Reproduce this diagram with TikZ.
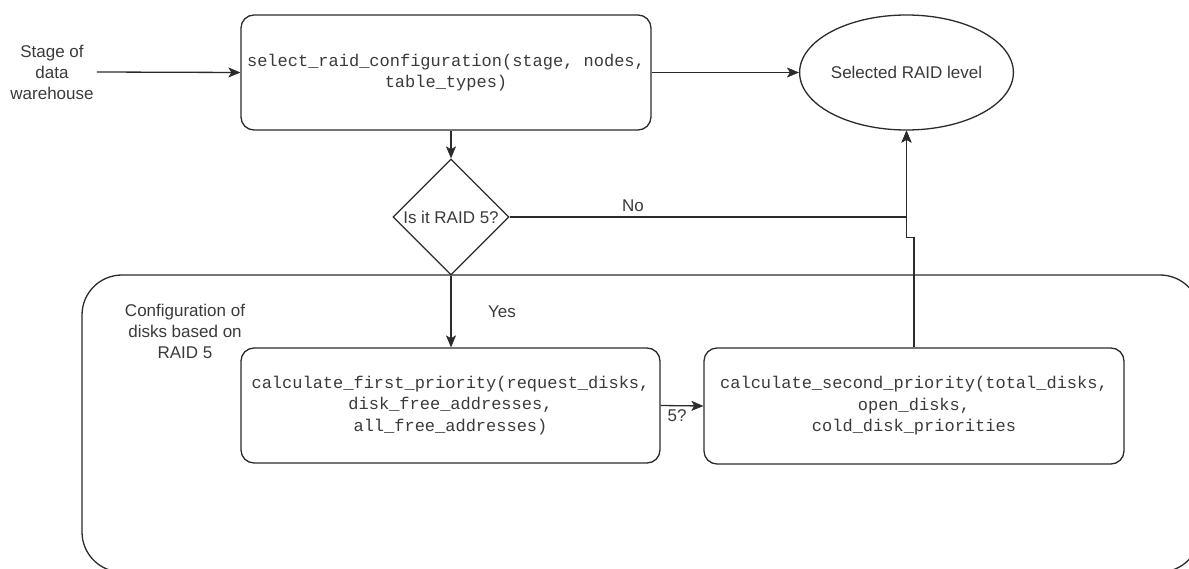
\documentclass[tikz,border=0pt]{standalone}
\usepackage{fontspec}
\setmainfont{Liberation Sans}
\setmonofont{Liberation Mono}
\usetikzlibrary{arrows.meta,shapes.geometric}
\definecolor{ink}{HTML}{2B2B2B}
\definecolor{txt}{HTML}{3A3A3A}

\begin{document}
\begin{tikzpicture}[x=1pt,y=-1pt,
  every node/.style={text=txt},
  sansfont/.style={font=\fontsize{17}{21}\selectfont},
  codefont/.style={font=\fontsize{17}{21.5}\selectfont\ttfamily},
  proc/.style={draw=ink, line width=1.3pt, rounded corners=13pt, codefont,
    align=center, inner sep=0pt},
  flow/.style={draw=ink, line width=1.3pt,
    -{Stealth[length=12pt,width=10pt,inset=3pt,line width=0.5pt]}},
  plain/.style={sansfont, align=center, inner sep=3pt},
]
\path[use as bounding box] (0,0) rectangle (1189,569);

% group frame for the RAID 5 disk configuration
\begin{scope}
  \clip (0,0) rectangle (1189,569);
  \draw[ink, line width=1.3pt, rounded corners=40pt] (82,275) rectangle (1200,572);
\end{scope}
\node[plain] (grp) at (185,331) {Configuration of\\disks based on\\RAID 5};

% input
\node[plain] (stage) at (52,72) {Stage of\\data\\warehouse};

% main selection step
\node[proc, minimum width=410pt, minimum height=115pt] (sel) at (446,72.5)
  {select\_raid\_configuration(stage, nodes,\\table\_types)};

% result
\node[ellipse, draw=ink, line width=1.3pt, minimum width=175pt, minimum height=115pt,
  inner sep=0pt, sansfont] (res) at (906.5,72.5) {Selected RAID level};

% decision
\node[diamond, draw=ink, line width=1.3pt, aspect=1, minimum width=116pt,
  minimum height=116pt, inner sep=0pt, sansfont] (dec) at (451,217) {Is it RAID 5?};

% RAID 5 priority steps
\node[proc, minimum width=419pt, minimum height=115pt] (calc1) at (450.5,405.5)
  {calculate\_first\_priority(request\_disks,\\disk\_free\_addresses,\\all\_free\_addresses)};
\node[proc, minimum width=420pt, minimum height=116pt] (calc2) at (914,406)
  {calculate\_second\_priority(total\_disks,\\open\_disks,\\cold\_disk\_priorities};

% connectors
\draw[flow] (stage.east) -- (sel.west);
\draw[flow] (sel.east) -- (res.west);
\draw[flow] (dec.north |- sel.south) -- (dec.north);
\coordinate (nojoin) at (res.south |- dec.east);
\draw[flow] (dec.east) -- (nojoin) -- (res.south);
\node[sansfont] (nolbl) at (633,206) {No};
\draw[flow] (dec.south) -- (dec.south |- calc1.north);
\node[sansfont] (yeslbl) at (502,312) {Yes};
\draw[flow] (calc1.east) -- (calc2.west);
\node[sansfont, inner sep=0pt] (fivelbl) at (677,416) {5?};
\draw[flow] (calc2.north) -- ++(0,-110) -| (res.south);
\end{tikzpicture}
\end{document}
